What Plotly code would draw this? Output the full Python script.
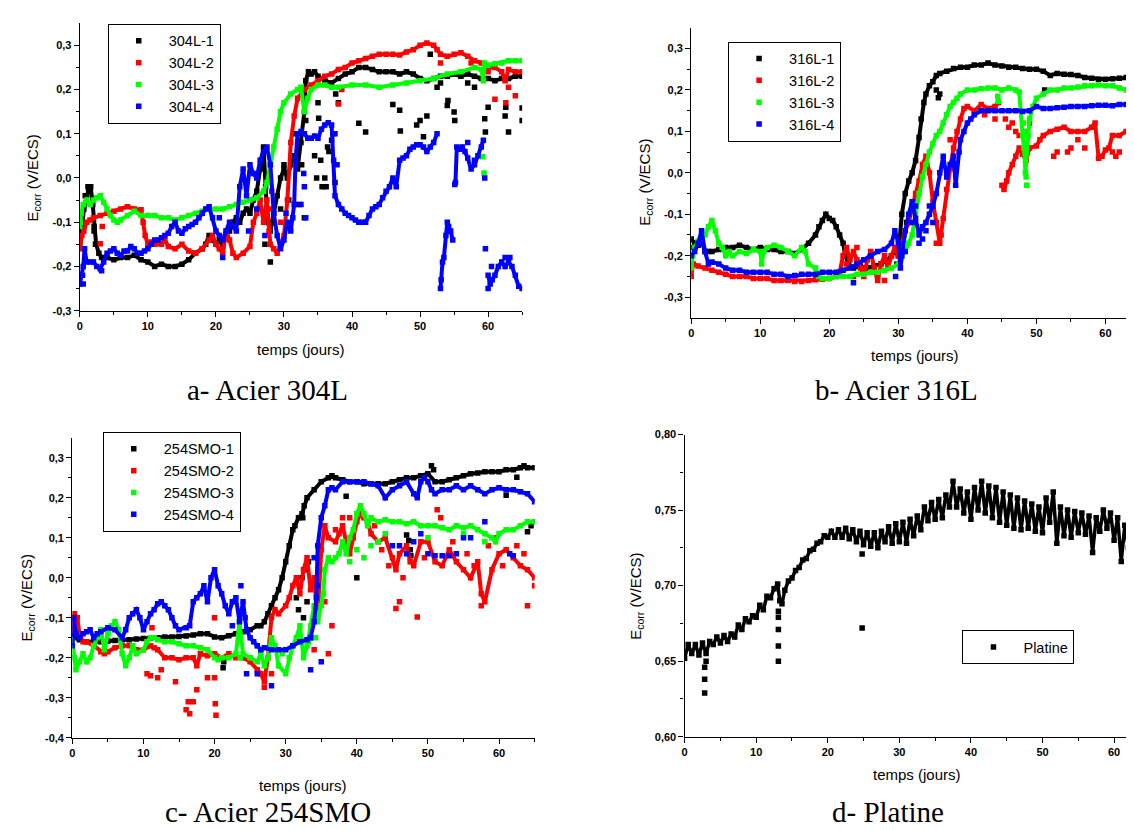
import plotly.graph_objects as go

W, H = 1134, 830

# ---------------- data: a- Acier 304L ----------------
A1_T = [0, 0.3, 0.6, 1.0, 1.3, 1.6, 1.9, 2.1, 2.4, 2.8,
        3.2, 4, 5, 6, 7, 8, 9, 10, 11, 12,
        13, 14, 15, 16, 17, 18, 18.5, 19, 19.5, 20,
        20.5, 21, 21.5, 22, 22.5, 23, 23.5, 24, 24.5, 25,
        25.5, 26, 26.5, 27, 27.3, 27.6, 28, 28.5, 29, 29.5,
        30, 30.5, 31, 31.5, 32, 32.5, 33, 33.2, 33.6, 34,
        34.5, 35, 36, 37, 38, 39, 40, 41, 42, 43,
        44, 45, 46, 47, 48, 49, 50, 51, 52, 53,
        54, 55, 56, 57, 58, 59, 60, 61, 62, 63,
        64, 65]
A1_E = [-0.15, -0.12, -0.07, -0.04, -0.03, -0.02, -0.06, -0.11, -0.15, -0.17,
        -0.18, -0.18, -0.185, -0.18, -0.18, -0.175, -0.185, -0.19, -0.2, -0.195,
        -0.2, -0.2, -0.195, -0.185, -0.17, -0.16, -0.15, -0.13, -0.14, -0.15,
        -0.14, -0.155, -0.13, -0.12, -0.1, -0.09, -0.1, -0.08, -0.07, -0.08,
        -0.05, -0.03, 0.02, 0.07, -0.02, -0.1, -0.12, -0.08, -0.04, 0.0,
        0.02, 0.0, 0.03, 0.05, 0.02, 0.08, 0.15, 0.22, 0.24, 0.235,
        0.24, 0.23, 0.22, 0.215, 0.225, 0.235, 0.24, 0.25, 0.25, 0.245,
        0.24, 0.24, 0.24, 0.235, 0.24, 0.235, 0.225, 0.22, 0.225, 0.23,
        0.23, 0.235, 0.23, 0.235, 0.23, 0.225, 0.225, 0.22, 0.225, 0.225,
        0.23, 0.23]
A1_TO = [0.8, 1.2, 1.5, 2.1, 2.3, 27.2, 28, 28.3, 29.5, 30,
         30.7, 31.5, 32.2, 32.6, 33, 33.2, 34.5, 34.8, 35, 35.1,
         35.4, 35.6, 36, 36.2, 36.4, 36.6, 37, 37.2, 37.5, 37.6,
         38, 41, 42, 46, 47, 47.1, 49.5, 50, 50.5, 51,
         51.5, 52.5, 53, 54, 54.1, 55, 55.1, 57, 58, 59.5,
         59.6, 60, 62.5, 62.6, 63, 65, 65]
A1_EO = [-0.04, -0.02, -0.025, -0.12, -0.15, -0.15, -0.19, -0.1, -0.07, 0.03,
         -0.05, 0.1, -0.06, 0.03, -0.09, 0.13, 0.05, 0.0, 0.17, 0.135,
         0.04, -0.02, 0.0, -0.02, 0.07, 0.06, 0.085, 0.1, -0.01, 0.19,
         0.17, 0.124, 0.104, 0.166, 0.153, 0.106, 0.12, 0.13, 0.093, 0.14,
         0.28, 0.205, 0.215, 0.164, 0.175, 0.149, 0.13, 0.215, 0.205, 0.134,
         0.104, 0.16, 0.14, 0.16, 0.104, 0.158, 0.13]

A2_T = [0, 0.3, 0.6, 1, 1.5, 2, 3, 4, 5, 6,
        7, 8, 9, 9.3, 9.6, 10, 10.5, 11, 12, 12.5,
        13, 14, 15, 16, 17, 18, 19, 19.5, 20, 20.5,
        21, 21.5, 22, 22.5, 23, 24, 25, 25.5, 26, 26.5,
        27, 27.5, 28, 28.5, 29, 29.5, 30, 30.5, 31, 31.5,
        32, 33, 34, 35, 36, 37, 38, 39, 40, 41,
        42, 43, 44, 45, 46, 47, 48, 49, 50, 51,
        52, 52.5, 53, 54, 55, 56, 57, 58, 59, 60,
        61, 62, 62.5, 63, 64, 65]
A2_E = [-0.16, -0.13, -0.12, -0.1, -0.095, -0.09, -0.085, -0.08, -0.075, -0.07,
        -0.065, -0.07, -0.072, -0.1, -0.13, -0.15, -0.145, -0.15, -0.15, -0.14,
        -0.155, -0.16, -0.15, -0.165, -0.17, -0.16, -0.14, -0.13, -0.15, -0.16,
        -0.17, -0.12, -0.14, -0.17, -0.18, -0.17, -0.155, -0.1, -0.08, -0.05,
        -0.1, -0.05, -0.15, -0.16, -0.17, -0.15, -0.13, -0.05, 0.08, 0.14,
        0.18, 0.2, 0.21, 0.22, 0.23, 0.235, 0.245, 0.25, 0.26, 0.265,
        0.27, 0.275, 0.28, 0.28, 0.28, 0.278, 0.285, 0.29, 0.3, 0.305,
        0.3, 0.29, 0.28, 0.275, 0.28, 0.283, 0.275, 0.265, 0.26, 0.25,
        0.25, 0.24, 0.22, 0.245, 0.24, 0.24]
A2_TO = [3, 3.3, 27.8, 28, 28.2, 29.5, 38, 38.5, 53, 57.5,
         60, 61, 62.6, 63, 64]
A2_EO = [-0.149, -0.11, -0.12, -0.07, -0.03, -0.1, 0.167, 0.2, 0.26, 0.26,
         0.24, 0.178, 0.17, 0.205, 0.186]

A3_T = [0, 0.2, 0.5, 1, 1.5, 2, 2.5, 3, 3.5, 4,
        4.5, 5, 5.5, 6, 7, 8, 9, 10, 11, 12,
        13, 14, 15, 16, 17, 18, 19, 20, 21, 22,
        23, 24, 25, 26, 27, 27.5, 28, 28.5, 29, 29.5,
        30, 31, 32, 32.5, 33, 33.5, 34, 35, 36, 37,
        38, 40, 42, 44, 46, 48, 50, 52, 54, 56,
        58, 59, 59.3, 59.5, 60, 61, 62, 63, 64, 65]
A3_E = [-0.11, -0.08, -0.06, -0.05, -0.06, -0.05, -0.045, -0.04, -0.055, -0.07,
        -0.085, -0.095, -0.1, -0.095, -0.085, -0.075, -0.085, -0.085, -0.085, -0.09,
        -0.09, -0.095, -0.09, -0.085, -0.08, -0.075, -0.07, -0.07, -0.07, -0.065,
        -0.06, -0.055, -0.05, -0.045, -0.03, -0.01, 0.03, 0.07, 0.11, 0.15,
        0.17, 0.19, 0.2, 0.205, 0.15, 0.18, 0.2, 0.21, 0.21, 0.205,
        0.205, 0.21, 0.21, 0.205, 0.21, 0.215, 0.22, 0.225, 0.235, 0.24,
        0.25, 0.245, 0.22, 0.26, 0.255, 0.258, 0.26, 0.265, 0.265, 0.265]
A3_TO = [59.2, 59.4, 0.1]
A3_EO = [0.048, 0.011, -0.1]

A4_T = [0, 0.2, 0.5, 0.7, 1, 1.5, 2, 2.5, 3, 3.5,
        4, 4.5, 5, 5.5, 6, 6.5, 7, 7.5, 8, 8.5,
        9, 9.5, 10, 10.5, 11, 11.5, 12, 12.5, 13, 13.5,
        14, 14.5, 15, 15.5, 16, 16.5, 17, 17.5, 18, 18.5,
        19, 19.5, 20, 20.5, 21, 21.5, 22, 22.5, 23, 23.5,
        24, 24.5, 25, 25.5, 26, 26.5, 27, 27.5, 28, 28.5,
        29, 29.5, 30, 30.5, 31, 31.5, 31.7, 32, 32.5, 33,
        33.5, 34, 34.5, 35, 35.5, 36, 36.5, 37, 37.3, 37.5,
        38, 38.5, 39, 39.5, 40, 40.5, 41, 41.5, 42, 42.5,
        43, 43.5, 44, 44.5, 45, 45.5, 46, 46.5, 47, 47.5,
        48, 48.5, 49, 49.5, 50, 50.5, 51, 51.5, 52, 52.5,
        None, 53, 53.1, 53.3, 53.5, 53.8, 54, 54.2, 54.5, 54.8,
        None, 55.2, 55.4, 55.8, 56.2, 56.6, 57, 57.5, 58, 58.5,
        59, 59.3, None, 60, 60.3, 60.6, 61, 61.5, 62, 62.5,
        63, 63.5, 64, 64.5, 65]
A4_E = [-0.24, -0.22, -0.2, -0.16, -0.19, -0.19, -0.19, -0.2, -0.205, -0.19,
        -0.17, -0.165, -0.16, -0.17, -0.175, -0.165, -0.165, -0.155, -0.16, -0.17,
        -0.17, -0.165, -0.16, -0.15, -0.14, -0.14, -0.135, -0.13, -0.125, -0.11,
        -0.1, -0.12, -0.125, -0.115, -0.11, -0.105, -0.1, -0.09, -0.08, -0.07,
        -0.065, -0.09, -0.12, -0.13, -0.14, -0.12, -0.1, -0.11, -0.12, -0.02,
        0.02, -0.04, 0.03, 0.01, 0.0, 0.04, 0.06, 0.07, 0.03, -0.08,
        -0.13, -0.16, -0.14, -0.1, -0.12, -0.06, 0.04, 0.1, 0.105, 0.1,
        0.09, 0.09, 0.095, 0.09, 0.11, 0.12, 0.125, 0.12, 0.04, -0.04,
        -0.06, -0.07, -0.08, -0.085, -0.09, -0.095, -0.1, -0.1, -0.1, -0.085,
        -0.07, -0.065, -0.06, -0.045, -0.03, -0.02, 0.0, -0.02, 0.04, 0.045,
        0.05, 0.065, 0.07, 0.075, 0.075, 0.07, 0.06, 0.07, 0.08, 0.1,
        None, -0.25, -0.23, -0.19, -0.18, -0.13, -0.1, -0.11, -0.12, -0.14,
        None, -0.01, 0.07, 0.065, 0.07, 0.06, 0.045, 0.02, 0.03, 0.05,
        0.07, 0.085, None, -0.22, -0.24, -0.23, -0.22, -0.2, -0.19, -0.2,
        -0.19, -0.2, -0.22, -0.245, -0.25]
A4_TO = [0.4, 0.5, 3.2, 20.5, 21, 24.8, 26, 27.2, 30.3, 31.3,
         32.5, 32.9, 33, 33.2, 37.5, 37.8, 55.1, 57, 58, 59.5,
         59.6, 60, 60.5, 62.5, 63.2]
A4_EO = [-0.22, -0.24, -0.21, -0.09, -0.18, -0.12, -0.07, -0.13, -0.08, -0.09,
         -0.06, 0.01, -0.02, -0.09, 0.1, 0.03, -0.015, 0.08, 0.04, 0.0,
         -0.16, -0.25, -0.2, -0.18, -0.18]

# ---------------- data: b- Acier 316L ----------------
B1_T = [0, 0.5, 1, 1.5, 2, 2.5, 3, 4, 5, 6,
        7, 8, 9, 10, 11, 12, 13, 14, 15, 16,
        17, 18, 18.5, 19, 19.5, 20, 20.5, 21, 21.5, 22,
        22.3, 22.8, 23.5, 24.5, 25.5, 26.5, 27.5, 28.5, 29, 29.5,
        30, 30.5, 31, 31.5, 32, 32.5, 33, 33.3, 33.7, 34,
        34.5, 35, 35.5, 36, 37, 38, 39, 40, 41, 42,
        43, 44, 45, 46, 47, 48, 49, 50, 51, 52,
        53, 54, 55, 56, 57, 58, 59, 60, 61, 62,
        63, 64, 65]
B1_E = [-0.16, -0.17, -0.175, -0.165, -0.19, -0.19, -0.19, -0.185, -0.18, -0.18,
        -0.175, -0.18, -0.185, -0.18, -0.185, -0.185, -0.19, -0.19, -0.195, -0.185,
        -0.17, -0.15, -0.13, -0.115, -0.1, -0.11, -0.115, -0.13, -0.15, -0.17,
        -0.2, -0.22, -0.23, -0.225, -0.23, -0.225, -0.22, -0.21, -0.2, -0.19,
        -0.2, -0.1, -0.05, -0.02, 0.0, 0.03, 0.085, 0.13, 0.17, 0.19,
        0.21, 0.22, 0.235, 0.24, 0.245, 0.252, 0.255, 0.255, 0.26, 0.26,
        0.265, 0.26, 0.258, 0.255, 0.255, 0.252, 0.25, 0.25, 0.245, 0.235,
        0.24, 0.238, 0.237, 0.235, 0.23, 0.228, 0.226, 0.226, 0.227, 0.228,
        0.23, 0.23, 0.228]
B1_TO = [0.2, 29.8, 30.8, 31.2, 35.5, 35.8, 36, 51.2, 63.5]
B1_EO = [-0.18, -0.22, -0.15, -0.12, 0.2, 0.181, 0.19, 0.2, 0.123]

B2_T = [0, 0.3, 1, 2, 3, 4, 5, 6, 7, 8,
        9, 10, 11, 12, 13, 14, 15, 16, 17, 18,
        19, 20, 21, 21.5, 22, 22.5, 23, 23.5, 24, 24.5,
        25, 25.5, 26, 26.5, 27, 27.5, 28, 28.5, 29, 29.5,
        30, 30.5, 31, 31.5, 32, 32.5, 33, 33.5, 34, 34.5,
        35, 35.5, 36, 36.5, 37, 37.5, 38, 38.5, 39, 39.5,
        40, 41, 42, 43, 44, 44.5, None, 45, 45.3, 45.7,
        46, 46.5, 47, 47.5, 48, 48.5, 49, 50, 50.5, 51,
        52, 53, 54, 55, 56, 57, 58, 58.5, 59, 59.5,
        60, 60.5, 61, 62, 63, 64, 64.5, 65]
B2_E = [-0.25, -0.22, -0.225, -0.23, -0.235, -0.24, -0.245, -0.25, -0.25, -0.25,
        -0.255, -0.255, -0.255, -0.26, -0.26, -0.26, -0.262, -0.262, -0.26, -0.258,
        -0.257, -0.255, -0.25, -0.24, -0.2, -0.18, -0.21, -0.19, -0.21, -0.23,
        -0.25, -0.21, -0.19, -0.23, -0.26, -0.22, -0.2, -0.23, -0.2, -0.18,
        -0.2, -0.17, -0.14, -0.12, -0.08, -0.05, -0.02, 0.02, 0.04, 0.0,
        -0.07, -0.12, -0.17, -0.11, -0.04, 0.01, 0.06, 0.1, 0.13, 0.155,
        0.16, 0.15, 0.165, 0.155, 0.16, 0.17, None, -0.03, -0.04, -0.02,
        0.0, 0.02, 0.04, 0.06, 0.045, 0.03, 0.06, 0.065, 0.08, 0.09,
        0.1, 0.105, 0.11, 0.1, 0.1, 0.1, 0.11, 0.12, 0.035, 0.04,
        0.055, 0.06, 0.09, 0.09, 0.1, 0.12, 0.15, 0.14]
B2_TO = [22.5, 23.5, 24, 26, 27, 28, 35.5, 36.2, 37.5, 42.5,
         44, 45.5, 46, 46.5, 47, 47.5, 48.3, 49, 52.5, 53,
         54.5, 55, 56, 57, 61, 61.5, 62]
B2_EO = [-0.22, -0.25, -0.18, -0.24, -0.25, -0.26, -0.17, -0.15, 0.08, 0.14,
         0.13, 0.13, 0.11, 0.12, 0.1, 0.09, 0.1, 0.12, 0.04, 0.05,
         0.05, 0.06, 0.08, 0.06, 0.05, 0.04, 0.05]

B3_T = [0, 0.2, 0.5, 1, 1.5, 2, 2.5, 3, 3.5, 4,
        4.5, 5, 5.5, 6, 7, 8, 9, 10, 10.2, 10.5,
        11, 12, 13, 14, 15, 16, 16.5, 17, 18, 18.5,
        19, 20, 21, 22, 23, 24, 25, 26, 27, 28,
        29, 30, 30.5, 31, 31.5, 32, 32.5, 33, 33.5, 34,
        34.5, 35, 35.5, 36, 36.5, 37, 37.5, 38, 38.5, 39,
        40, 41, 42, 43, 44, 45, 46, 47, 47.5, 48,
        48.2, 48.4, 48.8, 49, 49.5, 50, 51, 52, 53, 54,
        55, 56, 57, 58, 59, 60, 61, 62, 63, 64,
        65]
B3_E = [-0.23, -0.2, -0.18, -0.165, -0.16, -0.15, -0.13, -0.115, -0.14, -0.17,
        -0.18, -0.2, -0.19, -0.2, -0.19, -0.195, -0.185, -0.19, -0.22, -0.19,
        -0.18, -0.175, -0.18, -0.19, -0.2, -0.18, -0.19, -0.22, -0.23, -0.25,
        -0.255, -0.255, -0.25, -0.25, -0.25, -0.245, -0.245, -0.24, -0.24, -0.235,
        -0.23, -0.22, -0.2, -0.19, -0.17, -0.15, -0.1, -0.05, -0.01, 0.02,
        0.05, 0.07, 0.09, 0.1, 0.12, 0.14, 0.16, 0.17, 0.18, 0.19,
        0.2, 0.2, 0.203, 0.205, 0.205, 0.2, 0.205, 0.2, 0.195, 0.09,
        0.06, 0.0, 0.09, 0.13, 0.16, 0.18, 0.19, 0.2, 0.2, 0.205,
        0.205, 0.207, 0.21, 0.21, 0.212, 0.21, 0.21, 0.205, 0.2, 0.2,
        0.19]
B3_TO = [44.4, 44.5, 48.1, 48.2, 48.3, 48.5, 48.6]
B3_EO = [0.185, 0.173, 0.12, 0.1, 0.07, -0.01, -0.03]

B4_T = [0, 0.5, 1, 1.5, 2, 2.5, 3, 4, 5, 6,
        7, 8, 9, 10, 11, 12, 13, 14, 15, 16,
        17, 18, 19, 20, 21, 22, 23, 24, 25, 26,
        27, 28, 29, 29.5, 30, 30.3, 30.5, 31, 31.5, 32,
        32.5, 33, 33.5, 34, 34.5, 35, 35.5, 36, 36.5, 37,
        37.5, 38, 38.3, 38.8, 39, 39.5, 40, 40.5, 41, 42,
        43, 44, 45, 46, 47, 48, 49, 50, 51, 52,
        53, 54, 55, 56, 57, 58, 59, 60, 61, 62,
        63, 64, 65]
B4_E = [-0.2, -0.19, -0.17, -0.14, -0.19, -0.22, -0.215, -0.22, -0.23, -0.235,
        -0.235, -0.24, -0.24, -0.24, -0.24, -0.245, -0.245, -0.25, -0.248, -0.245,
        -0.245, -0.245, -0.24, -0.24, -0.24, -0.235, -0.23, -0.22, -0.21, -0.2,
        -0.19, -0.185, -0.17, -0.14, -0.17, -0.23, -0.2, -0.14, -0.1, -0.07,
        -0.11, -0.15, -0.13, -0.12, -0.1, -0.08, -0.05, 0.0, 0.04, -0.01,
        0.02, 0.04, -0.03, 0.05, 0.08, 0.1, 0.12, 0.13, 0.14, 0.15,
        0.15, 0.15, 0.15, 0.15, 0.15, 0.148, 0.15, 0.16, 0.155, 0.155,
        0.157, 0.158, 0.16, 0.16, 0.16, 0.162, 0.163, 0.163, 0.162, 0.165,
        0.165, 0.165, 0.16]
B4_TO = [23.5, 29.6, 31, 32, 32.5, 33, 33.5, 34, 34.5, 35, 64.8]
B4_EO = [-0.265, -0.25, -0.19, -0.12, -0.08, -0.17, -0.16, -0.14, -0.08, -0.12, 0.126]

# ---------------- data: c- Acier 254SMO ----------------
C1_T = [0, 0.5, 1, 2, 3, 4, 5, 6, 7, 8,
        9, 10, 11, 12, 13, 14, 15, 16, 17, 18,
        19, 20, 21, 22, 23, 24, 25, 26, 26.5, 27,
        27.5, 28, 28.5, 29, 29.5, 30, 30.5, 31, 31.3, 31.8,
        32.3, 32.6, 33, 34, 35, 36, 36.5, 37, 38, 39,
        40, 41, 42, 43, 44, 45, 46, 47, 48, 49,
        50, 51, 52, 53, 54, 55, 56, 57, 58, 59,
        60, 61, 62, 63, 63.5, 64, 65]
C1_E = [-0.14, -0.15, -0.155, -0.16, -0.16, -0.16, -0.158, -0.157, -0.155, -0.155,
        -0.153, -0.152, -0.15, -0.15, -0.148, -0.148, -0.147, -0.146, -0.143, -0.14,
        -0.14, -0.148, -0.15, -0.145, -0.14, -0.135, -0.13, -0.12, -0.12, -0.11,
        -0.09, -0.07, -0.05, -0.03, 0.0, 0.04, 0.08, 0.12, 0.13, 0.15,
        0.16, 0.18, 0.2, 0.22, 0.24, 0.25, 0.255, 0.25, 0.245, 0.24,
        0.24, 0.235, 0.235, 0.235, 0.235, 0.24, 0.245, 0.25, 0.25, 0.255,
        0.26, 0.24, 0.24, 0.245, 0.25, 0.255, 0.26, 0.262, 0.265, 0.265,
        0.265, 0.27, 0.27, 0.275, 0.28, 0.275, 0.275]
C1_TO = [21.2, 21.3, 31.5, 31.8, 32, 32.3, 32.5, 32.8, 33, 33.2,
         32.4, 38.5, 40, 47, 47.3, 47.5, 47.6, 50.5, 50.8, 61,
         62.5, 64, 64.5, 65]
C1_EO = [-0.225, -0.21, -0.05, -0.08, -0.02, 0.0, -0.1, 0.02, -0.06, 0.04,
         0.15, 0.204, 0.0, 0.107, 0.093, 0.07, 0.055, 0.28, 0.27, 0.206,
         0.251, 0.115, 0.13, 0.14]

C2_T = [0, 0.3, 0.7, 1, 1.5, 2, 3, 4, 4.5, 5,
        6, 7, 8, 9, 10, 11, 11.5, 12, 13, 14,
        15, 16, 17, 17.5, 18, 19, 20, 21, 22, 23,
        24, 25, 26, 26.5, 27, 27.5, 28, 28.5, 29, 30,
        30.5, 31, 31.5, 32, 32.5, 33, 33.5, 34, 34.5, 35,
        35.5, 36, 37, 37.5, 38, 38.5, 39, 39.5, 40, 40.5,
        41, 41.5, 42, 43, 44, 45, 45.5, 46, 47, 47.5,
        48, 49, 50, 51, 52, 53, 54, 55, 56, 57,
        57.5, 58, 59, 60, 61, 62, 63, 64, 65]
C2_E = [-0.13, -0.09, -0.1, -0.14, -0.16, -0.16, -0.17, -0.185, -0.19, -0.185,
        -0.175, -0.17, -0.17, -0.18, -0.18, -0.17, -0.175, -0.18, -0.2, -0.2,
        -0.205, -0.2, -0.2, -0.22, -0.19, -0.195, -0.19, -0.2, -0.19, -0.2,
        -0.2, -0.21, -0.23, -0.24, -0.26, -0.2, -0.1, -0.08, -0.09, -0.07,
        -0.05, -0.02, 0.0, -0.04, 0.02, 0.05, -0.03, 0.0, -0.1, 0.07,
        0.13, 0.1, 0.09, 0.11, 0.13, 0.09, 0.06, 0.1, 0.14, 0.16,
        0.15, 0.14, 0.11, 0.09, 0.1, 0.05, 0.02, 0.06, 0.08, 0.04,
        0.03, 0.09, 0.09, 0.04, 0.03, 0.07, 0.04, 0.02, 0.0, 0.04,
        -0.04, -0.06, 0.02, 0.06, 0.07, 0.05, 0.03, 0.02, 0.0]
C2_TO = [10.5, 11, 11.2, 12, 12.5, 14.5, 16, 16.3, 16.5, 17,
         17.5, 19, 20, 20.1, 20.2, 20, 27, 28, 36, 45.5,
         46, 48.5, 57.5, 64, 65, 33.5, 34, 34.3, 35.5, 36.5,
         37, 38, 39, 42.5, 43.5, 44.5, 46.5, 49.5, 51.3, 51.8,
         53.5, 55.5, 56.5, 58.5, 59.5, 60.5, 62.5, 63.5]
C2_EO = [-0.24, -0.245, -0.125, -0.25, -0.23, -0.26, -0.33, -0.31, -0.34, -0.31,
         -0.28, -0.25, -0.25, -0.315, -0.344, -0.1, -0.274, -0.24, -0.19, -0.077,
         -0.06, -0.098, -0.07, -0.07, -0.02, -0.15, -0.18, -0.08, -0.06, -0.12,
         0.12, 0.15, 0.15, 0.13, 0.07, 0.03, 0.0, 0.05, 0.17, 0.15,
         0.09, 0.06, 0.03, 0.08, 0.1, 0.03, 0.08, 0.06]

C3_T = [0, 0.3, 0.5, 1, 1.5, 2, 2.5, 3, 3.5, 4,
        4.5, 5, 5.5, 6, 6.5, 7, 7.5, 8, 8.5, 9,
        10, 10.5, 11, 11.5, 12, 13, 14, 15, 16, 17,
        18, 19, 20, 20.5, 21, 22, 23, 23.5, 24, 25,
        26, 26.5, 27, 27.5, 28, 28.5, 29, 30, 30.5, 31,
        31.5, 32, 32.5, 33, 33.5, 34, 34.5, 35, 35.3, 35.5,
        36, 36.5, 37, 37.5, 38, 38.5, 39, 39.5, 40, 40.5,
        41, 41.5, 42, 43, 44, 45, 46, 47, 48, 49,
        50, 51, 52, 53, 54, 55, 56, 57, 58, 59,
        59.5, 60, 61, 62, 63, 64, 65]
C3_E = [-0.16, -0.2, -0.23, -0.21, -0.19, -0.21, -0.2, -0.17, -0.15, -0.13,
        -0.18, -0.14, -0.12, -0.11, -0.13, -0.19, -0.22, -0.2, -0.17, -0.19,
        -0.18, -0.16, -0.15, -0.15, -0.155, -0.16, -0.16, -0.165, -0.17, -0.17,
        -0.175, -0.18, -0.2, -0.205, -0.2, -0.2, -0.19, -0.11, -0.19, -0.2,
        -0.21, -0.19, -0.22, -0.2, -0.15, -0.17, -0.22, -0.24, -0.2, -0.17,
        -0.15, -0.12, -0.2, -0.17, -0.12, -0.07, -0.11, -0.07, -0.04, 0.02,
        0.05, 0.04, 0.05, 0.06, 0.09, 0.06, 0.1, 0.12, 0.16, 0.18,
        0.16, 0.13, 0.15, 0.14, 0.145, 0.14, 0.14, 0.135, 0.14, 0.13,
        0.13, 0.13, 0.125, 0.12, 0.13, 0.125, 0.13, 0.12, 0.11, 0.1,
        0.09, 0.11, 0.12, 0.12, 0.13, 0.14, 0.14]
C3_TO = [23.4, 23.6, 39, 40, 41, 42, 43, 44, 50, 55,
         58, 26, 29.5, 33.2, 34.2]
C3_EO = [-0.15, -0.2, 0.04, 0.07, 0.05, 0.08, 0.09, 0.11, 0.1, 0.11,
         0.09, -0.17, -0.19, -0.16, -0.15]

C4_T = [0, 0.2, 0.5, 1, 1.5, 2, 2.5, 3, 3.5, 4,
        5, 6, 7, 7.5, 8, 8.5, 9, 9.5, 10, 10.5,
        11, 11.5, 12, 12.5, 13, 13.5, 14, 14.5, 15, 16,
        16.5, 17, 17.5, 18, 18.5, 19, 19.5, 20, 20.5, 21,
        21.5, 22, 22.5, 23, 23.5, 24, 24.5, 25, 25.5, 26,
        26.5, 27, 28, 29, 30, 31, 32, 33, 33.5, 34,
        34.3, 34.5, 35, 35.5, 36, 36.5, 37, 38, 39, 40,
        41, 42, 43, 44, 45, 46, 47, 48, 48.5, 49,
        49.5, 50, 50.5, 51, 52, 53, 54, 55, 56, 57,
        58, 59, 60, 61, 62, 63, 64, 65]
C4_E = [-0.17, -0.1, -0.14, -0.15, -0.14, -0.135, -0.13, -0.15, -0.14, -0.135,
        -0.125, -0.13, -0.15, -0.13, -0.1, -0.09, -0.08, -0.1, -0.13, -0.11,
        -0.09, -0.08, -0.065, -0.06, -0.07, -0.08, -0.1, -0.12, -0.13, -0.125,
        -0.12, -0.06, -0.05, -0.04, -0.02, -0.06, 0.0, 0.02, -0.02, -0.04,
        -0.07, -0.09, -0.06, -0.05, -0.11, -0.06, -0.13, -0.15, -0.16, -0.17,
        -0.18, -0.175, -0.18, -0.18, -0.18, -0.17, -0.16, -0.155, -0.15, -0.11,
        -0.05, 0.08, 0.15, 0.18, 0.22, 0.225, 0.22, 0.24, 0.24, 0.24,
        0.24, 0.235, 0.23, 0.2, 0.22, 0.23, 0.24, 0.21, 0.2, 0.24,
        0.25, 0.24, 0.22, 0.21, 0.22, 0.22, 0.23, 0.22, 0.23, 0.22,
        0.21, 0.22, 0.225, 0.22, 0.22, 0.215, 0.21, 0.19]
C4_TO = [24.5, 26, 28, 33.5, 34, 35, 34.5, 45, 46, 47,
         48, 49, 50, 51, 52, 53, 54, 55, 56, 61.5,
         62, 58, 23.7, 24.3, 22.5]
C4_EO = [-0.24, -0.24, -0.27, -0.23, 0.05, -0.21, -0.02, 0.08, 0.08, 0.06,
         0.09, 0.11, 0.06, 0.055, 0.055, 0.055, 0.06, 0.1, 0.1, 0.06,
         0.055, 0.14, -0.02, -0.1, -0.12]

# ---------------- data: d- Platine ----------------
D_T = [0, 0.5, 1, 1.5, 2, 2.5, 3, 3.5, 4, 4.5,
       5, 5.5, 6, 6.5, 7, 7.5, 8, 8.5, 9, 9.5,
       10, 10.5, 11, 11.5, 12, 12.5, 13, 13.3, 13.6, 14,
       14.5, 15, 15.5, 16, 16.5, 17, 17.5, 18, 18.5, 19,
       19.5, 20, 20.5, 21, 21.5, 22, 22.5, 23, 23.5, 24,
       24.5, 25, 25.5, 26, 26.5, 27, 27.5, 28, 28.5, 29,
       29.5, 30, 30.5, 31, 31.5, 32, 32.5, 33, 33.5, 34,
       34.5, 35, 35.5, 36, 36.5, 37, 37.5, 38, 38.5, 39,
       39.5, 40, 40.5, 41, 41.5, 42, 42.5, 43, 43.5, 44,
       44.5, 45, 45.5, 46, 46.5, 47, 47.5, 48, 48.5, 49,
       49.5, 50, 50.5, 51, 51.5, 52, 52.5, 53, 53.5, 54,
       54.5, 55, 55.5, 56, 56.5, 57, 57.5, 58, 58.5, 59,
       59.5, 60, 60.5, 61, 61.5, 62, 62.5, 63, 63.5, 64]
D_E = [0.652, 0.661, 0.655, 0.661, 0.654, 0.662, 0.655, 0.663, 0.661, 0.666,
       0.662, 0.667, 0.663, 0.668, 0.666, 0.674, 0.671, 0.678, 0.676, 0.68,
       0.679, 0.687, 0.684, 0.693, 0.692, 0.698, 0.701, 0.69, 0.688, 0.697,
       0.703, 0.705, 0.71, 0.712, 0.717, 0.718, 0.723, 0.724, 0.728, 0.729,
       0.733, 0.732, 0.736, 0.732, 0.737, 0.732, 0.738, 0.731, 0.737, 0.729,
       0.736, 0.727, 0.735, 0.726, 0.735, 0.725, 0.736, 0.729, 0.739, 0.728,
       0.741, 0.729, 0.742, 0.728, 0.744, 0.733, 0.746, 0.737, 0.752, 0.743,
       0.755, 0.744, 0.757, 0.745, 0.76, 0.752, 0.769, 0.752, 0.764, 0.748,
       0.762, 0.744, 0.765, 0.75, 0.769, 0.748, 0.766, 0.745, 0.765, 0.742,
       0.762, 0.74, 0.76, 0.738, 0.758, 0.737, 0.756, 0.738, 0.754, 0.736,
       0.752, 0.735, 0.758, 0.742, 0.762, 0.728, 0.752, 0.733, 0.75, 0.732,
       0.749, 0.735, 0.748, 0.734, 0.746, 0.722, 0.745, 0.736, 0.75, 0.738,
       0.748, 0.73, 0.745, 0.716, 0.74, 0.725, 0.738, 0.71, 0.735, 0.72]
D_TO = [2.8, 2.8, 2.8, 3.0, 13.1, 13.1, 13.1, 13.1, 13.1, 24.8, 24.8]
D_EO = [0.646, 0.638, 0.629, 0.65, 0.683, 0.679, 0.671, 0.66, 0.65, 0.721, 0.672]

# ---------------- labels ----------------
NAMES_A = ["304L-1", "304L-2", "304L-3", "304L-4"]
NAMES_B = ["316L-1", "316L-2", "316L-3", "316L-4"]
NAMES_C = ["254SMO-1", "254SMO-2", "254SMO-3", "254SMO-4"]
NAMES_D = ["Platine"]
COLORS = ["#000000", "#ff0000", "#00ff00", "#0000ff"]

X_TICKS = [0, 10, 20, 30, 40, 50, 60]
X_LABELS = ["0", "10", "20", "30", "40", "50", "60"]
X_MINOR = [5, 15, 25, 35, 45, 55, 65]
AB_YTICKS = [-0.3, -0.2, -0.1, 0.0, 0.1, 0.2, 0.3]
AB_YLABELS = ["-0,3", "-0,2", "-0,1", "0,0", "0,1", "0,2", "0,3"]
AB_YMINOR = [-0.25, -0.15, -0.05, 0.05, 0.15, 0.25]
C_YTICKS = [-0.4, -0.3, -0.2, -0.1, 0.0, 0.1, 0.2, 0.3]
C_YLABELS = ["-0,4", "-0,3", "-0,2", "-0,1", "0,0", "0,1", "0,2", "0,3"]
C_YMINOR = [-0.35, -0.25, -0.15, -0.05, 0.05, 0.15, 0.25]
D_YTICKS = [0.60, 0.65, 0.70, 0.75, 0.80]
D_YLABELS = ["0,60", "0,65", "0,70", "0,75", "0,80"]
D_YMINOR = [0.625, 0.675, 0.725, 0.775]

Y_TITLE = "E<sub>corr</sub> (V/ECS)"
X_TITLE = "temps (jours)"
CAPTIONS = ["a- Acier 304L", "b- Acier 316L", "c- Acier 254SMO", "d- Platine"]

SANS = "Liberation Sans, Arial, sans-serif"
SERIF = "Liberation Serif, Times New Roman, serif"

fig = go.Figure()


def add_series(t, e, to, eo, color, name, xa, ya, legend, lw=4.0, ms=5.5):
    fig.add_trace(go.Scatter(
        x=t, y=e, mode="lines", line=dict(color=color, width=lw),
        xaxis=xa, yaxis=ya, showlegend=False, hoverinfo="skip",
        connectgaps=False))
    fig.add_trace(go.Scatter(
        x=list(t) + list(to), y=list(e) + list(eo), mode="markers",
        marker=dict(symbol="square", size=ms, color=color, line=dict(width=0)),
        name=name, xaxis=xa, yaxis=ya, legend=legend))


series_a = [(A1_T, A1_E, A1_TO, A1_EO), (A2_T, A2_E, A2_TO, A2_EO),
            (A3_T, A3_E, A3_TO, A3_EO), (A4_T, A4_E, A4_TO, A4_EO)]
series_b = [(B1_T, B1_E, B1_TO, B1_EO), (B2_T, B2_E, B2_TO, B2_EO),
            (B3_T, B3_E, B3_TO, B3_EO), (B4_T, B4_E, B4_TO, B4_EO)]
series_c = [(C1_T, C1_E, C1_TO, C1_EO), (C2_T, C2_E, C2_TO, C2_EO),
            (C3_T, C3_E, C3_TO, C3_EO), (C4_T, C4_E, C4_TO, C4_EO)]

for (t, e, to, eo), nm, col in zip(series_a, NAMES_A, COLORS):
    add_series(t, e, to, eo, col, nm, "x", "y", "legend")
for (t, e, to, eo), nm, col in zip(series_b, NAMES_B, COLORS):
    add_series(t, e, to, eo, col, nm, "x2", "y2", "legend2")
for (t, e, to, eo), nm, col in zip(series_c, NAMES_C, COLORS):
    add_series(t, e, to, eo, col, nm, "x3", "y3", "legend3")
add_series(D_T, D_E, D_TO, D_EO, "#000000", NAMES_D[0], "x4", "y4", "legend4", lw=3.5, ms=5.5)

TICKFONT = dict(family=SANS, size=11, color="black", weight="bold")


def xaxis(dom, anchor, rng):
    return dict(domain=dom, anchor=anchor, range=rng, showline=True, linecolor="black",
                linewidth=1.3, mirror=False, ticks="outside", ticklen=5, tickwidth=1.2,
                tickcolor="black", tickmode="array", tickvals=X_TICKS, ticktext=X_LABELS,
                tickfont=TICKFONT, showgrid=False, zeroline=False, fixedrange=True,
                minor=dict(tickmode="array", tickvals=X_MINOR, ticks="outside", ticklen=3,
                           tickwidth=1, tickcolor="black", showgrid=False))


def yaxis(dom, anchor, rng, vals, labels, minor):
    return dict(domain=dom, anchor=anchor, range=rng, showline=True, linecolor="black",
                linewidth=1.3, mirror=False, ticks="outside", ticklen=5, tickwidth=1.2,
                tickcolor="black", tickmode="array", tickvals=vals, ticktext=labels,
                tickfont=TICKFONT, showgrid=False, zeroline=False, fixedrange=True,
                minor=dict(tickmode="array", tickvals=minor, ticks="outside", ticklen=3,
                           tickwidth=1, tickcolor="black", showgrid=False))


def dx(a, b):
    return [a / W, b / W]


def dy(top, bottom):
    return [1 - bottom / H, 1 - top / H]


LEG = dict(bordercolor="black", borderwidth=1, bgcolor="white",
           font=dict(family=SANS, size=14.5, color="black"),
           xanchor="left", yanchor="top", itemsizing="trace", itemwidth=50)

annotations = []


def ann(text, xpx, ypx, size, family, angle=0, yanchor="middle"):
    annotations.append(dict(text=text, x=xpx / W, y=1 - ypx / H, xref="paper", yref="paper",
                            showarrow=False, xanchor="center", yanchor=yanchor,
                            textangle=angle, font=dict(family=family, size=size, color="black")))


ann(Y_TITLE, 23, 166, 15, SANS, -90)
ann(Y_TITLE, 636, 171, 15, SANS, -90)
ann(Y_TITLE, 16, 592, 15, SANS, -90)
ann(Y_TITLE, 627, 591, 15, SANS, -90)
ann(X_TITLE, 291, 340, 15, SANS)
ann(X_TITLE, 906, 347, 15, SANS)
ann(X_TITLE, 293, 783, 15, SANS)
ann(X_TITLE, 908, 772, 15, SANS)
ann(CAPTIONS[0], 257, 382, 29, SERIF)
ann(CAPTIONS[1], 888, 382, 29, SERIF)
ann(CAPTIONS[2], 258, 828, 29, SERIF, yanchor="bottom")
ann(CAPTIONS[3], 879, 828, 29, SERIF, yanchor="bottom")

fig.update_layout(
    width=W, height=H, margin=dict(l=0, r=0, t=0, b=0),
    paper_bgcolor="white", plot_bgcolor="white",
    font=dict(family=SANS, color="black"),
    xaxis=xaxis(dx(69, 512.5), "y", [0, 65]),
    yaxis=yaxis(dy(9.3, 301), "x", [-0.3, 0.35], AB_YTICKS, AB_YLABELS, AB_YMINOR),
    xaxis2=xaxis(dx(682, 1132), "y2", [0, 65]),
    yaxis2=yaxis(dy(14, 308.3), "x2", [-0.35, 0.35], AB_YTICKS, AB_YLABELS, AB_YMINOR),
    xaxis3=xaxis(dx(61.5, 525), "y3", [0, 65]),
    yaxis3=yaxis(dy(430, 734.3), "x3", [-0.4, 0.35], C_YTICKS, C_YLABELS, C_YMINOR),
    xaxis4=xaxis(dx(675.4, 1134), "y4", [0, 63.9]),
    yaxis4=yaxis(dy(426.7, 733.3), "x4", [0.6, 0.8], D_YTICKS, D_YLABELS, D_YMINOR),
    legend=dict(x=97 / W, y=1 - 10 / H, **LEG),
    legend2=dict(x=719 / W, y=1 - 28 / H, **LEG),
    legend3=dict(x=92 / W, y=1 - 424 / H, **LEG),
    legend4=dict(x=954 / W, y=1 - 625 / H, **LEG),
    annotations=annotations,
)

fig.write_html("out.html")
